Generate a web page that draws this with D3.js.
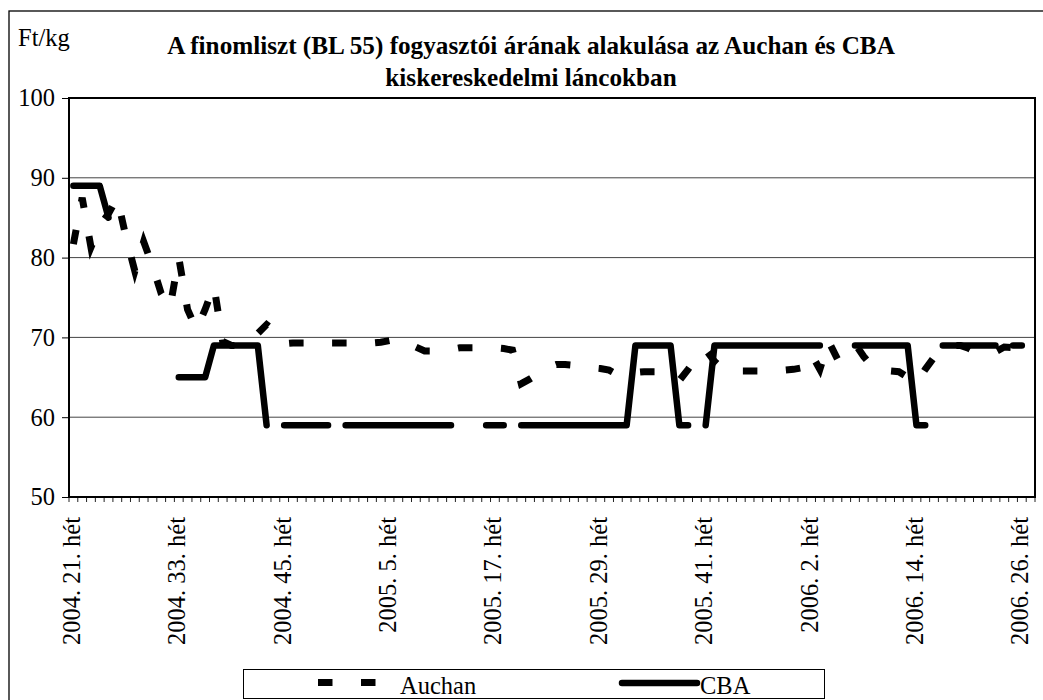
<!DOCTYPE html>
<html>
<head>
<meta charset="utf-8">
<script src="https://cdn.jsdelivr.net/npm/d3@7/dist/d3.min.js"></script>
<style>
  body { margin: 0; background: #fff; }
  svg { display: block; font-family: "Liberation Serif", "Times New Roman", serif; }
</style>
</head>
<body>
<div id="chart"></div>
<script>
/**
 * DATA
 * */
// [year, first week, last week] -- one category per week
const weekRanges = [[2004, 21, 52], [2005, 1, 52], [2006, 2, 27]];
const categories = weekRanges.flatMap(([yr, a, b]) =>
  d3.range(a, b + 1).map(w => `${yr}. ${w}. hét`));

const xTickLabels = ["2004. 21. hét", "2004. 33. hét", "2004. 45. hét", "2005. 5. hét",
  "2005. 17. hét", "2005. 29. hét", "2005. 41. hét", "2006. 2. hét", "2006. 14. hét", "2006. 26. hét"];
const yTicks = [50, 60, 70, 80, 90, 100];
const seriesNames = ["Auchan", "CBA"];

// Ft/kg
const auchan = [
  81.7, 87.5, 81.3, 84, 85.5, 87.5, 82.5, 78.3, 82, 79,
  75.5, 73.7, 80, 73.5, 71, 73.5, 76.5, 69.5, 69, 69,
  69.3, 70.5, 71.6, 70.7, 69.2, 69.3, 69.3, 69.3, 69.3, 69.3,
  69.3, 69.3, 69.3, 69.3, 69.3, 69.4, 69.6, 69.7, 69.5, 68.8,
  68.3, 68.3, 68.3, 68.5, 68.7, 68.7, 68.7, 68.7, 68.7, 68.6,
  68.4, 64.2, 64.8, 65.5, 66.2, 66.6, 66.6, 66.5, 66.3, 66.2,
  66.1, 65.9, 65.3, 65.5, 65.6, 65.7, 65.7, 65.7, 65.2, 64.6,
  66, 67.5, 68.5, 67, 66, 65.7, 65.8, 65.8, 65.8, 65.9,
  65.9, 65.9, 66, 66.2, 68, 66, 69.5, 67.3, 68.3, 69.2,
  67.6, 66.3, 65.9, 65.8, 65.7, 65, 64.3, 66, 67.5, 68.5,
  69, 69, 68.6, 68, 68, 68.2, 68.8, 68.7, 68.4, 68.3
];
const cba = [
  89, 89, 89, 89, 85, null, null, null, null, null,
  null, null, 65, 65, 65, 65, 69, 69, 69, 69,
  69, 69, 59, null, 59, 59, 59, 59, 59, 59,
  null, 59, 59, 59, 59, 59, 59, 59, 59, 59,
  59, 59, 59, 59, null, null, null, 59, 59, 59,
  null, 59, 59, 59, 59, 59, 59, 59, 59, 59,
  59, 59, 59, 59, 69, 69, 69, 69, 69, 59,
  59, null, 59, 69, 69, 69, 69, 69, 69, 69,
  69, 69, 69, 69, 69, 69, null, null, null, 69,
  69, 69, 69, 69, 69, 69, 59, 59, null, 69,
  69, 69, 69, 69, 69, 69, null, 69, 69, null
];

/**
 * CONSTANTS
 * */
const width = 1043,
  height = 700,
  plot = { left: 69, right: 1035, top: 98, bottom: 497 },
  fontSize = 24.5,
  titleSize = 25.2;

const svg = d3.select("#chart")
  .append("svg")
  .attr("width", width)
  .attr("height", height);

// outer chart border (only left and top edges are inside the picture)
svg.append("rect")
  .attr("x", 9).attr("y", 11)
  .attr("width", width + 20).attr("height", height + 20)
  .attr("fill", "none").attr("stroke", "#000").attr("stroke-width", 1.3);

// SCALES
const xScale = d3.scaleBand()
  .domain(d3.range(categories.length))
  .range([plot.left, plot.right]);
const yScale = d3.scaleLinear()
  .domain([50, 100])
  .range([plot.bottom, plot.top]);
const cx = i => xScale(i) + xScale.bandwidth() / 2;

// gridlines
svg.append("g")
  .selectAll("line")
  .data(yTicks.filter(v => v > 50 && v < 100))
  .join("line")
  .attr("x1", plot.left).attr("x2", plot.right)
  .attr("y1", d => yScale(d)).attr("y2", d => yScale(d))
  .attr("stroke", "#444").attr("stroke-width", 1);

// y axis
const yAxis = svg.append("g")
  .attr("transform", `translate(${plot.left},0)`)
  .call(d3.axisLeft(yScale).tickValues(yTicks).tickSize(7).tickPadding(7));
yAxis.select(".domain").remove();
yAxis.selectAll("line").attr("stroke", "#000");
yAxis.selectAll("text")
  .attr("font-size", fontSize)
  .attr("font-family", "Liberation Serif")
  .attr("fill", "#000");

// x ticks at category boundaries
svg.append("g")
  .selectAll("line")
  .data(d3.range(categories.length + 1))
  .join("line")
  .attr("x1", i => plot.left + i * xScale.bandwidth())
  .attr("x2", i => plot.left + i * xScale.bandwidth())
  .attr("y1", plot.bottom).attr("y2", plot.bottom + 5)
  .attr("stroke", "#222").attr("stroke-width", 1);

// x labels, rotated
svg.append("g")
  .selectAll("text")
  .data(xTickLabels)
  .join("text")
  .attr("transform", d => `translate(${cx(categories.indexOf(d)) + 6.5},517) rotate(-90)`)
  .attr("text-anchor", "end")
  .attr("font-size", fontSize)
  .text(d => d);

// plot frame
svg.append("rect")
  .attr("x", plot.left).attr("y", plot.top)
  .attr("width", plot.right - plot.left).attr("height", plot.bottom - plot.top)
  .attr("fill", "none").attr("stroke", "#000").attr("stroke-width", 2);

// LINES
const line = d3.line()
  .defined(d => d != null)
  .x((d, i) => cx(i))
  .y(d => yScale(d));

svg.append("path")
  .datum(auchan)
  .attr("d", line)
  .attr("fill", "none")
  .attr("stroke", "#000")
  .attr("stroke-width", 7)
  .attr("stroke-dasharray", "14.5 28.5");

svg.append("path")
  .datum(cba)
  .attr("d", line)
  .attr("fill", "none")
  .attr("stroke", "#000")
  .attr("stroke-width", 6.5)
  .attr("stroke-linecap", "round")
  .attr("stroke-linejoin", "round");

// TITLES
svg.append("text")
  .attr("x", 18).attr("y", 46)
  .attr("font-size", fontSize)
  .text("Ft/kg");

svg.append("text")
  .attr("x", 531).attr("y", 54)
  .attr("text-anchor", "middle")
  .attr("font-size", titleSize)
  .attr("font-weight", "bold")
  .call(t => {
    t.append("tspan").attr("x", 531).text("A finomliszt (BL 55) fogyasztói árának alakulása az Auchan és CBA");
    t.append("tspan").attr("x", 531).attr("dy", 32).text("kiskereskedelmi láncokban");
  });

// LEGEND
const legend = svg.append("g");
legend.append("rect")
  .attr("x", 243.5).attr("y", 669.5)
  .attr("width", 581).attr("height", 29)
  .attr("fill", "#fff").attr("stroke", "#000").attr("stroke-width", 1);

legend.append("line")
  .attr("x1", 318).attr("x2", 376)
  .attr("y1", 682.5).attr("y2", 682.5)
  .attr("stroke", "#000").attr("stroke-width", 7)
  .attr("stroke-dasharray", "14.5 28.5");
legend.append("text")
  .attr("x", 400).attr("y", 694)
  .attr("font-size", fontSize)
  .text(seriesNames[0]);

legend.append("line")
  .attr("x1", 622).attr("x2", 697)
  .attr("y1", 683).attr("y2", 683)
  .attr("stroke", "#000").attr("stroke-width", 6.5)
  .attr("stroke-linecap", "round");
legend.append("text")
  .attr("x", 700).attr("y", 694)
  .attr("font-size", fontSize)
  .text(seriesNames[1]);
</script>
</body>
</html>
